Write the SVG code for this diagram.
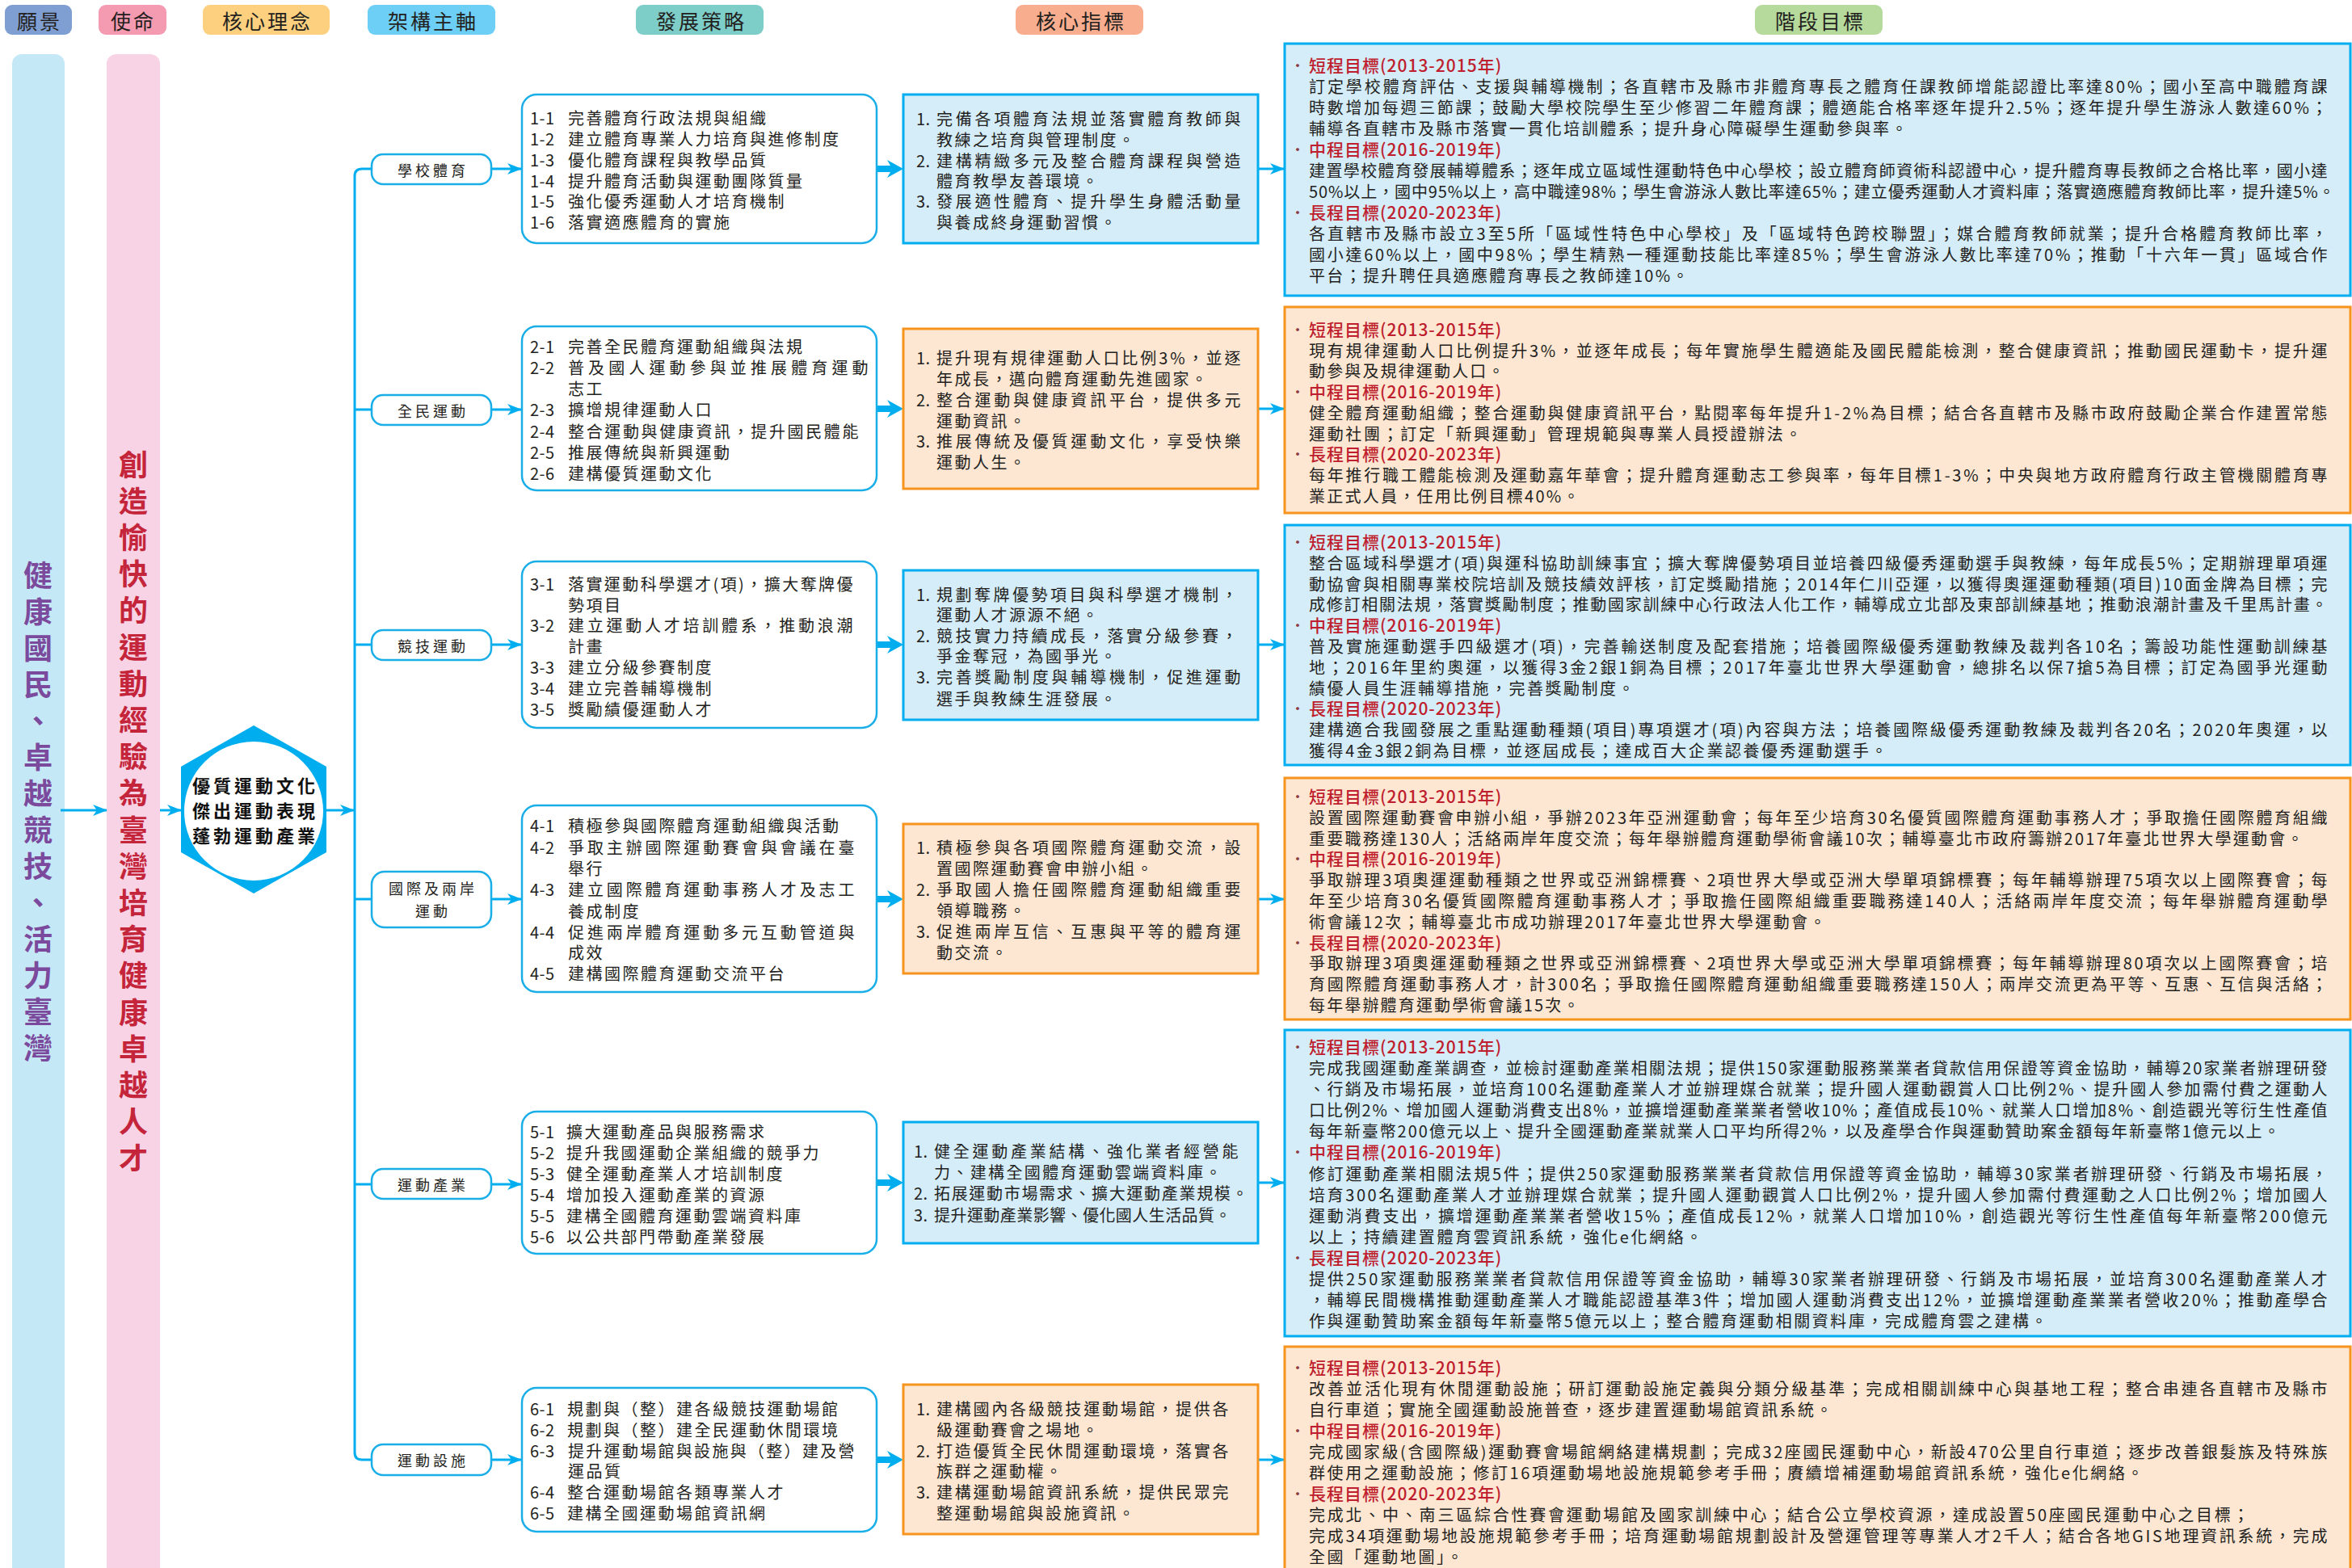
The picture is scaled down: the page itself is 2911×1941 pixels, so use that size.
<svg xmlns="http://www.w3.org/2000/svg" width="2911" height="1941" viewBox="0 0 2911 1941">
<style>
text{font-family:"Noto Sans CJK TC","Noto Sans CJK JP",sans-serif;}
.t{font-size:20px;fill:#231f20;dominant-baseline:central;letter-spacing:2.5px;}
.n{font-size:20px;fill:#231f20;dominant-baseline:central;letter-spacing:0.5px;}
.h{font-size:21px;fill:#be1e2d;dominant-baseline:central;font-weight:500;letter-spacing:1px;}
.b{font-size:18px;fill:#8a3a3f;dominant-baseline:central;text-anchor:middle;}
.hd{font-size:25px;fill:#231f20;dominant-baseline:central;text-anchor:middle;letter-spacing:3px;}
.pl{font-size:18px;fill:#231f20;dominant-baseline:central;text-anchor:middle;letter-spacing:4px;}
.hx{font-size:22px;fill:#111;font-weight:700;dominant-baseline:central;text-anchor:middle;letter-spacing:4px;}
.v1{font-size:36px;fill:#7b4a9c;font-weight:700;writing-mode:vertical-rl;text-orientation:upright;text-anchor:middle;letter-spacing:9px;}
.v2{font-size:36px;fill:#c4253a;font-weight:700;writing-mode:vertical-rl;text-orientation:upright;text-anchor:middle;letter-spacing:9.2px;}
.sb{fill:#fff;stroke:#1aaee8;stroke-width:2.5;}
.pill{fill:#fff;stroke:#1aaee8;stroke-width:2.5;}
.bl{fill:#d5ecf9;stroke:#00aeef;stroke-width:3;}
.or{fill:#fde7d3;stroke:#f7941d;stroke-width:3;}
.cn{stroke:#00aeef;stroke-width:3;fill:none;}
.ar{fill:#00aeef;}
</style>
<defs>
<marker id="ah" markerUnits="userSpaceOnUse" markerWidth="20" markerHeight="16" refX="17" refY="7" orient="auto">
<path d="M0,0 L18,7 L0,14 L5,7 z" fill="#00aeef"/>
</marker>
</defs>

<g id="headers">
<rect x="6" y="6" width="83" height="37" rx="9" fill="#7f9fd2"/><text class="hd" x="49" y="25">願景</text>
<rect x="122" y="6" width="84" height="37" rx="9" fill="#f49ab1"/><text class="hd" x="165" y="25">使命</text>
<rect x="251" y="6" width="157" height="37" rx="9" fill="#fdd07f"/><text class="hd" x="331" y="25">核心理念</text>
<rect x="455" y="6" width="158" height="37" rx="9" fill="#6dcff6"/><text class="hd" x="536" y="25">架構主軸</text>
<rect x="787" y="6" width="158" height="37" rx="9" fill="#7dcdc8"/><text class="hd" x="868" y="25">發展策略</text>
<rect x="1257" y="6" width="158" height="37" rx="9" fill="#f8ad8e"/><text class="hd" x="1338" y="25">核心指標</text>
<rect x="2172" y="6" width="158" height="37" rx="9" fill="#b6da9c"/><text class="hd" x="2253" y="25">階段目標</text>
</g>

<g id="vision">
<rect x="15" y="67" width="65" height="1900" rx="12" fill="#c5e8f7"/>
<text class="v1" x="47" y="1009">健康國民、卓越競技、活力臺灣</text>
</g>

<g id="mission">
<rect x="132" y="67" width="66" height="1900" rx="12" fill="#f8d3e5"/>
<text class="v2" x="165" y="1009">創造愉快的運動經驗為臺灣培育健康卓越人才</text>
</g>

<g id="core">
<polygon points="314,898 404,949 404,1055 314,1106 224,1055 224,949" fill="#00aeef"/>
<circle cx="314" cy="1004" r="86" fill="#fff"/>
<text class="hx"><tspan x="316" y="971">優質運動文化</tspan><tspan x="316" y="1002">傑出運動表現</tspan><tspan x="316" y="1033">蓬勃運動產業</tspan></text>
</g>

<g id="connectors">
<line class="cn" x1="75" y1="1003" x2="132" y2="1003" marker-end="url(#ah)"/>
<line class="cn" x1="198" y1="1003" x2="224" y2="1003" marker-end="url(#ah)"/>
<line class="cn" x1="404" y1="1003" x2="438" y2="1003" marker-end="url(#ah)"/>
<path class="cn" d="M460,209 H448 Q439,209 439,218 V1798 Q439,1807 448,1807 H460"/>
<path class="cn" d="M439,507 H460 M439,798 H460 M439,1113 H460 M439,1466 H460"/>
<line class="cn" x1="608" y1="209" x2="645" y2="209" marker-end="url(#ah)"/>
<line class="cn" x1="608" y1="507" x2="645" y2="507" marker-end="url(#ah)"/>
<line class="cn" x1="608" y1="798" x2="645" y2="798" marker-end="url(#ah)"/>
<line class="cn" x1="608" y1="1113" x2="645" y2="1113" marker-end="url(#ah)"/>
<line class="cn" x1="608" y1="1466" x2="645" y2="1466" marker-end="url(#ah)"/>
<line class="cn" x1="608" y1="1807" x2="645" y2="1807" marker-end="url(#ah)"/>
<path class="ar" d="M1086,205 H1102 L1098,198 L1118,209 L1098,220 L1102,213 H1086 z"/>
<path class="ar" d="M1086,502 H1102 L1098,495 L1118,506 L1098,517 L1102,510 H1086 z"/>
<path class="ar" d="M1086,794 H1102 L1098,787 L1118,798 L1098,809 L1102,802 H1086 z"/>
<path class="ar" d="M1086,1109 H1102 L1098,1102 L1118,1113 L1098,1124 L1102,1117 H1086 z"/>
<path class="ar" d="M1086,1460 H1102 L1098,1453 L1118,1464 L1098,1475 L1102,1468 H1086 z"/>
<path class="ar" d="M1086,1803 H1102 L1098,1796 L1118,1807 L1098,1818 L1102,1811 H1086 z"/>
<line class="cn" x1="1557" y1="209" x2="1589" y2="209" marker-end="url(#ah)"/>
<line class="cn" x1="1557" y1="506" x2="1589" y2="506" marker-end="url(#ah)"/>
<line class="cn" x1="1557" y1="798" x2="1589" y2="798" marker-end="url(#ah)"/>
<line class="cn" x1="1557" y1="1113" x2="1589" y2="1113" marker-end="url(#ah)"/>
<line class="cn" x1="1557" y1="1464" x2="1589" y2="1464" marker-end="url(#ah)"/>
<line class="cn" x1="1557" y1="1807" x2="1589" y2="1807" marker-end="url(#ah)"/>
</g>

<g id="axis1"><rect class="pill" x="460" y="191" width="148" height="37" rx="14"/><text class="pl" x="536" y="210">學校體育</text></g>
<g id="axis2"><rect class="pill" x="460" y="489" width="148" height="37" rx="14"/><text class="pl" x="536" y="508">全民運動</text></g>
<g id="axis3"><rect class="pill" x="460" y="780" width="148" height="37" rx="14"/><text class="pl" x="536" y="799">競技運動</text></g>
<g id="axis4"><rect class="pill" x="460" y="1079" width="148" height="69" rx="16"/><text class="pl"><tspan x="536" y="1099">國際及兩岸</tspan><tspan x="536" y="1127">運動</tspan></text></g>
<g id="axis5"><rect class="pill" x="460" y="1447" width="148" height="37" rx="14"/><text class="pl" x="536" y="1466">運動產業</text></g>
<g id="axis6"><rect class="pill" x="460" y="1788" width="148" height="38" rx="14"/><text class="pl" x="536" y="1807">運動設施</text></g>

<g id="strategy1">
<rect class="sb" x="646" y="117" width="439" height="184" rx="18"/>
<text class="n" x="656" y="145">1-1</text><text class="t" x="703" y="145">完善體育行政法規與組織</text>
<text class="n" x="656" y="171">1-2</text><text class="t" x="703" y="171">建立體育專業人力培育與進修制度</text>
<text class="n" x="656" y="197">1-3</text><text class="t" x="703" y="197">優化體育課程與教學品質</text>
<text class="n" x="656" y="223">1-4</text><text class="t" x="703" y="223">提升體育活動與運動團隊質量</text>
<text class="n" x="656" y="248">1-5</text><text class="t" x="703" y="248">強化優秀運動人才培育機制</text>
<text class="n" x="656" y="274">1-6</text><text class="t" x="703" y="274">落實適應體育的實施</text>
</g>
<g id="strategy2">
<rect class="sb" x="646" y="404" width="439" height="203" rx="18"/>
<text class="n" x="656" y="428">2-1</text><text class="t" x="703" y="428">完善全民體育運動組織與法規</text>
<text class="n" x="656" y="454">2-2</text><text class="t" x="703" y="454" textLength="374">普及國人運動參與並推展體育運動</text>
<text class="t" x="703" y="480">志工</text>
<text class="n" x="656" y="506">2-3</text><text class="t" x="703" y="506">擴增規律運動人口</text>
<text class="n" x="656" y="533">2-4</text><text class="t" x="703" y="533" textLength="362">整合運動與健康資訊，提升國民體能</text>
<text class="n" x="656" y="559">2-5</text><text class="t" x="703" y="559">推展傳統與新興運動</text>
<text class="n" x="656" y="585">2-6</text><text class="t" x="703" y="585">建構優質運動文化</text>
</g>
<g id="strategy3">
<rect class="sb" x="646" y="695" width="439" height="206" rx="18"/>
<text class="n" x="656" y="722">3-1</text><text class="t" x="703" y="722" textLength="355">落實運動科學選才(項)，擴大奪牌優</text>
<text class="t" x="703" y="748">勢項目</text>
<text class="n" x="656" y="773">3-2</text><text class="t" x="703" y="773" textLength="355">建立運動人才培訓體系，推動浪潮</text>
<text class="t" x="703" y="799">計畫</text>
<text class="n" x="656" y="825">3-3</text><text class="t" x="703" y="825">建立分級參賽制度</text>
<text class="n" x="656" y="851">3-4</text><text class="t" x="703" y="851">建立完善輔導機制</text>
<text class="n" x="656" y="877">3-5</text><text class="t" x="703" y="877">獎勵績優運動人才</text>
</g>
<g id="strategy4">
<rect class="sb" x="646" y="997" width="439" height="231" rx="18"/>
<text class="n" x="656" y="1021">4-1</text><text class="t" x="703" y="1021">積極參與國際體育運動組織與活動</text>
<text class="n" x="656" y="1048">4-2</text><text class="t" x="703" y="1048" textLength="357">爭取主辦國際運動賽會與會議在臺</text>
<text class="t" x="703" y="1074">舉行</text>
<text class="n" x="656" y="1100">4-3</text><text class="t" x="703" y="1100" textLength="357">建立國際體育運動事務人才及志工</text>
<text class="t" x="703" y="1127">養成制度</text>
<text class="n" x="656" y="1153">4-4</text><text class="t" x="703" y="1153" textLength="357">促進兩岸體育運動多元互動管道與</text>
<text class="t" x="703" y="1178">成效</text>
<text class="n" x="656" y="1204">4-5</text><text class="t" x="703" y="1204">建構國際體育運動交流平台</text>
</g>
<g id="strategy5">
<rect class="sb" x="646" y="1376" width="439" height="176" rx="18"/>
<text class="n" x="656" y="1400">5-1</text><text class="t" x="701" y="1400">擴大運動產品與服務需求</text>
<text class="n" x="656" y="1426">5-2</text><text class="t" x="701" y="1426">提升我國運動企業組織的競爭力</text>
<text class="n" x="656" y="1452">5-3</text><text class="t" x="701" y="1452">健全運動產業人才培訓制度</text>
<text class="n" x="656" y="1478">5-4</text><text class="t" x="701" y="1478">增加投入運動產業的資源</text>
<text class="n" x="656" y="1504">5-5</text><text class="t" x="701" y="1504">建構全國體育運動雲端資料庫</text>
<text class="n" x="656" y="1530">5-6</text><text class="t" x="701" y="1530">以公共部門帶動產業發展</text>
</g>
<g id="strategy6">
<rect class="sb" x="646" y="1718" width="439" height="178" rx="18"/>
<text class="n" x="656" y="1743">6-1</text><text class="t" x="702" y="1743">規劃與（整）建各級競技運動場館</text>
<text class="n" x="656" y="1769">6-2</text><text class="t" x="702" y="1769">規劃與（整）建全民運動休閒環境</text>
<text class="n" x="656" y="1795">6-3</text><text class="t" x="703" y="1795" textLength="357">提升運動場館與設施與（整）建及營</text>
<text class="t" x="703" y="1820">運品質</text>
<text class="n" x="656" y="1846">6-4</text><text class="t" x="702" y="1846">整合運動場館各類專業人才</text>
<text class="n" x="656" y="1872">6-5</text><text class="t" x="702" y="1872">建構全國運動場館資訊網</text>
</g>

<g id="indicator1">
<rect class="bl" x="1118" y="117" width="439" height="184"/>
<text class="n" x="1134" y="146">1.</text><text class="t" x="1159" y="146" textLength="379">完備各項體育法規並落實體育教師與</text>
<text class="t" x="1159" y="172">教練之培育與管理制度。</text>
<text class="n" x="1134" y="198">2.</text><text class="t" x="1159" y="198" textLength="379">建構精緻多元及整合體育課程與營造</text>
<text class="t" x="1159" y="223">體育教學友善環境。</text>
<text class="n" x="1134" y="248">3.</text><text class="t" x="1159" y="248" textLength="379">發展適性體育、提升學生身體活動量</text>
<text class="t" x="1159" y="274">與養成終身運動習慣。</text>
</g>
<g id="indicator2">
<rect class="or" x="1118" y="407" width="439" height="198"/>
<text class="n" x="1134" y="442">1.</text><text class="t" x="1159" y="442" textLength="379">提升現有規律運動人口比例3%，並逐</text>
<text class="t" x="1159" y="468">年成長，邁向體育運動先進國家。</text>
<text class="n" x="1134" y="494">2.</text><text class="t" x="1159" y="494" textLength="379">整合運動與健康資訊平台，提供多元</text>
<text class="t" x="1159" y="520">運動資訊。</text>
<text class="n" x="1134" y="545">3.</text><text class="t" x="1159" y="545" textLength="379">推展傳統及優質運動文化，享受快樂</text>
<text class="t" x="1159" y="571">運動人生。</text>
</g>
<g id="indicator3">
<rect class="bl" x="1118" y="706" width="439" height="185"/>
<text class="n" x="1134" y="735">1.</text><text class="t" x="1159" y="735" textLength="375">規劃奪牌優勢項目與科學選才機制，</text>
<text class="t" x="1159" y="760">運動人才源源不絕。</text>
<text class="n" x="1134" y="786">2.</text><text class="t" x="1159" y="786" textLength="375">競技實力持續成長，落實分級參賽，</text>
<text class="t" x="1159" y="811">爭金奪冠，為國爭光。</text>
<text class="n" x="1134" y="837">3.</text><text class="t" x="1159" y="837" textLength="379">完善獎勵制度與輔導機制，促進運動</text>
<text class="t" x="1159" y="864">選手與教練生涯發展。</text>
</g>
<g id="indicator4">
<rect class="or" x="1118" y="1020" width="439" height="185"/>
<text class="n" x="1134" y="1048">1.</text><text class="t" x="1159" y="1048" textLength="379">積極參與各項國際體育運動交流，設</text>
<text class="t" x="1159" y="1074">置國際運動賽會申辦小組。</text>
<text class="n" x="1134" y="1100">2.</text><text class="t" x="1159" y="1100" textLength="379">爭取國人擔任國際體育運動組織重要</text>
<text class="t" x="1159" y="1126">領導職務。</text>
<text class="n" x="1134" y="1152">3.</text><text class="t" x="1159" y="1152" textLength="379">促進兩岸互信、互惠與平等的體育運</text>
<text class="t" x="1159" y="1178">動交流。</text>
</g>
<g id="indicator5">
<rect class="bl" x="1118" y="1389" width="439" height="150"/>
<text class="n" x="1131" y="1424">1.</text><text class="t" x="1156" y="1424" textLength="379">健全運動產業結構、強化業者經營能</text>
<text class="t" x="1156" y="1450" textLength="358">力、建構全國體育運動雲端資料庫。</text>
<text class="n" x="1131" y="1476">2.</text><text class="t" x="1156" y="1476" textLength="391">拓展運動市場需求、擴大運動產業規模。</text>
<text class="n" x="1131" y="1503">3.</text><text class="t" x="1156" y="1503" textLength="370">提升運動產業影響、優化國人生活品質。</text>
</g>
<g id="indicator6">
<rect class="or" x="1118" y="1714" width="439" height="185"/>
<text class="n" x="1134" y="1743">1.</text><text class="t" x="1159" y="1743" textLength="364">建構國內各級競技運動場館，提供各</text>
<text class="t" x="1159" y="1769">級運動賽會之場地。</text>
<text class="n" x="1134" y="1795">2.</text><text class="t" x="1159" y="1795" textLength="364">打造優質全民休閒運動環境，落實各</text>
<text class="t" x="1159" y="1820">族群之運動權。</text>
<text class="n" x="1134" y="1846">3.</text><text class="t" x="1159" y="1846" textLength="364">建構運動場館資訊系統，提供民眾完</text>
<text class="t" x="1159" y="1872">整運動場館與設施資訊。</text>
</g>

<g id="goal1">
<rect class="bl" x="1590" y="54" width="1319" height="312"/>
<text class="b" x="1606" y="80">·</text><text class="h" x="1620" y="80">短程目標(2013-2015年)</text>
<text class="t" x="1620" y="106" textLength="1263">訂定學校體育評估、支援與輔導機制；各直轄市及縣市非體育專長之體育任課教師增能認證比率達80%；國小至高中職體育課</text>
<text class="t" x="1620" y="132" textLength="1263">時數增加每週三節課；鼓勵大學校院學生至少修習二年體育課；體適能合格率逐年提升2.5%；逐年提升學生游泳人數達60%；</text>
<text class="t" x="1620" y="158" textLength="743">輔導各直轄市及縣市落實一貫化培訓體系；提升身心障礙學生運動參與率。</text>
<text class="b" x="1606" y="184">·</text><text class="h" x="1620" y="184">中程目標(2016-2019年)</text>
<text class="t" x="1620" y="210" textLength="1263">建置學校體育發展輔導體系；逐年成立區域性運動特色中心學校；設立體育師資術科認證中心，提升體育專長教師之合格比率，國小達</text>
<text class="t" x="1620" y="236" textLength="1272">50%以上，國中95%以上，高中職達98%；學生會游泳人數比率達65%；建立優秀運動人才資料庫；落實適應體育教師比率，提升達5%。</text>
<text class="b" x="1606" y="262">·</text><text class="h" x="1620" y="262">長程目標(2020-2023年)</text>
<text class="t" x="1620" y="288" textLength="1263">各直轄市及縣市設立3至5所「區域性特色中心學校」及「區域特色跨校聯盟」；媒合體育教師就業；提升合格體育教師比率，</text>
<text class="t" x="1620" y="314" textLength="1263">國小達60%以上，國中98%；學生精熟一種運動技能比率達85%；學生會游泳人數比率達70%；推動「十六年一貫」區域合作</text>
<text class="t" x="1620" y="340" textLength="472">平台；提升聘任具適應體育專長之教師達10%。</text>
</g>
<g id="goal2">
<rect class="or" x="1590" y="380" width="1319" height="255"/>
<text class="b" x="1606" y="407">·</text><text class="h" x="1620" y="407">短程目標(2013-2015年)</text>
<text class="t" x="1620" y="433" textLength="1263">現有規律運動人口比例提升3%，並逐年成長；每年實施學生體適能及國民體能檢測，整合健康資訊；推動國民運動卡，提升運</text>
<text class="t" x="1620" y="458" textLength="244">動參與及規律運動人口。</text>
<text class="b" x="1606" y="484">·</text><text class="h" x="1620" y="484">中程目標(2016-2019年)</text>
<text class="t" x="1620" y="510" textLength="1263">健全體育運動組織；整合運動與健康資訊平台，點閱率每年提升1-2%為目標；結合各直轄市及縣市政府鼓勵企業合作建置常態</text>
<text class="t" x="1620" y="536" textLength="612">運動社團；訂定「新興運動」管理規範與專業人員授證辦法。</text>
<text class="b" x="1606" y="561">·</text><text class="h" x="1620" y="561">長程目標(2020-2023年)</text>
<text class="t" x="1620" y="587" textLength="1263">每年推行職工體能檢測及運動嘉年華會；提升體育運動志工參與率，每年目標1-3%；中央與地方政府體育行政主管機關體育專</text>
<text class="t" x="1620" y="613" textLength="337">業正式人員，任用比例目標40%。</text>
</g>
<g id="goal3">
<rect class="bl" x="1590" y="650" width="1319" height="297"/>
<text class="b" x="1606" y="670">·</text><text class="h" x="1620" y="670">短程目標(2013-2015年)</text>
<text class="t" x="1620" y="696" textLength="1263">整合區域科學選才(項)與運科協助訓練事宜；擴大奪牌優勢項目並培養四級優秀運動選手與教練，每年成長5%；定期辦理單項運</text>
<text class="t" x="1620" y="722" textLength="1263">動協會與相關專業校院培訓及競技績效評核，訂定獎勵措施；2014年仁川亞運，以獲得奧運運動種類(項目)10面金牌為目標；完</text>
<text class="t" x="1620" y="747" textLength="1263">成修訂相關法規，落實獎勵制度；推動國家訓練中心行政法人化工作，輔導成立北部及東部訓練基地；推動浪潮計畫及千里馬計畫。</text>
<text class="b" x="1606" y="773">·</text><text class="h" x="1620" y="773">中程目標(2016-2019年)</text>
<text class="t" x="1620" y="799" textLength="1263">普及實施運動選手四級選才(項)，完善輸送制度及配套措施；培養國際級優秀運動教練及裁判各10名；籌設功能性運動訓練基</text>
<text class="t" x="1620" y="825" textLength="1263">地；2016年里約奧運，以獲得3金2銀1銅為目標；2017年臺北世界大學運動會，總排名以保7搶5為目標；訂定為國爭光運動</text>
<text class="t" x="1620" y="851" textLength="405">績優人員生涯輔導措施，完善獎勵制度。</text>
<text class="b" x="1606" y="876">·</text><text class="h" x="1620" y="876">長程目標(2020-2023年)</text>
<text class="t" x="1620" y="902" textLength="1263">建構適合我國發展之重點運動種類(項目)專項選才(項)內容與方法；培養國際級優秀運動教練及裁判各20名；2020年奧運，以</text>
<text class="t" x="1620" y="928" textLength="718">獲得4金3銀2銅為目標，並逐屆成長；達成百大企業認養優秀運動選手。</text>
</g>
<g id="goal4">
<rect class="or" x="1590" y="963" width="1319" height="299"/>
<text class="b" x="1606" y="985">·</text><text class="h" x="1620" y="985">短程目標(2013-2015年)</text>
<text class="t" x="1620" y="1011" textLength="1263">設置國際運動賽會申辦小組，爭辦2023年亞洲運動會；每年至少培育30名優質國際體育運動事務人才；爭取擔任國際體育組織</text>
<text class="t" x="1620" y="1037" textLength="1233">重要職務達130人；活絡兩岸年度交流；每年舉辦體育運動學術會議10次；輔導臺北市政府籌辦2017年臺北世界大學運動會。</text>
<text class="b" x="1606" y="1062">·</text><text class="h" x="1620" y="1062">中程目標(2016-2019年)</text>
<text class="t" x="1620" y="1088" textLength="1263">爭取辦理3項奧運運動種類之世界或亞洲錦標賽、2項世界大學或亞洲大學單項錦標賽；每年輔導辦理75項次以上國際賽會；每</text>
<text class="t" x="1620" y="1114" textLength="1263">年至少培育30名優質國際體育運動事務人才；爭取擔任國際組織重要職務達140人；活絡兩岸年度交流；每年舉辦體育運動學</text>
<text class="t" x="1620" y="1140" textLength="642">術會議12次；輔導臺北市成功辦理2017年臺北世界大學運動會。</text>
<text class="b" x="1606" y="1166">·</text><text class="h" x="1620" y="1166">長程目標(2020-2023年)</text>
<text class="t" x="1620" y="1191" textLength="1263">爭取辦理3項奧運運動種類之世界或亞洲錦標賽、2項世界大學或亞洲大學單項錦標賽；每年輔導辦理80項次以上國際賽會；培</text>
<text class="t" x="1620" y="1217" textLength="1263">育國際體育運動事務人才，計300名；爭取擔任國際體育運動組織重要職務達150人；兩岸交流更為平等、互惠、互信與活絡；</text>
<text class="t" x="1620" y="1243" textLength="337">每年舉辦體育運動學術會議15次。</text>
</g>
<g id="goal5">
<rect class="bl" x="1590" y="1275" width="1319" height="379"/>
<text class="b" x="1606" y="1295">·</text><text class="h" x="1620" y="1295">短程目標(2013-2015年)</text>
<text class="t" x="1620" y="1321" textLength="1263">完成我國運動產業調查，並檢討運動產業相關法規；提供150家運動服務業業者貸款信用保證等資金協助，輔導20家業者辦理研發</text>
<text class="t" x="1620" y="1347" textLength="1263">、行銷及市場拓展，並培育100名運動產業人才並辦理媒合就業；提升國人運動觀賞人口比例2%、提升國人參加需付費之運動人</text>
<text class="t" x="1620" y="1373" textLength="1263">口比例2%、增加國人運動消費支出8%，並擴增運動產業業者營收10%；產值成長10%、就業人口增加8%、創造觀光等衍生性產值</text>
<text class="t" x="1620" y="1399" textLength="1204">每年新臺幣200億元以上、提升全國運動產業就業人口平均所得2%，以及產學合作與運動贊助案金額每年新臺幣1億元以上。</text>
<text class="b" x="1606" y="1425">·</text><text class="h" x="1620" y="1425">中程目標(2016-2019年)</text>
<text class="t" x="1620" y="1452" textLength="1263">修訂運動產業相關法規5件；提供250家運動服務業業者貸款信用保證等資金協助，輔導30家業者辦理研發、行銷及市場拓展，</text>
<text class="t" x="1620" y="1478" textLength="1263">培育300名運動產業人才並辦理媒合就業；提升國人運動觀賞人口比例2%，提升國人參加需付費運動之人口比例2%；增加國人</text>
<text class="t" x="1620" y="1504" textLength="1263">運動消費支出，擴增運動產業業者營收15%；產值成長12%，就業人口增加10%，創造觀光等衍生性產值每年新臺幣200億元</text>
<text class="t" x="1620" y="1530" textLength="489">以上；持續建置體育雲資訊系統，強化e化網絡。</text>
<text class="b" x="1606" y="1556">·</text><text class="h" x="1620" y="1556">長程目標(2020-2023年)</text>
<text class="t" x="1620" y="1582" textLength="1263">提供250家運動服務業業者貸款信用保證等資金協助，輔導30家業者辦理研發、行銷及市場拓展，並培育300名運動產業人才</text>
<text class="t" x="1620" y="1608" textLength="1263">，輔導民間機構推動運動產業人才職能認證基準3件；增加國人運動消費支出12%，並擴增運動產業業者營收20%；推動產學合</text>
<text class="t" x="1620" y="1634" textLength="916">作與運動贊助案金額每年新臺幣5億元以上；整合體育運動相關資料庫，完成體育雲之建構。</text>
</g>
<g id="goal6">
<rect class="or" x="1590" y="1667" width="1319" height="290"/>
<text class="b" x="1606" y="1692">·</text><text class="h" x="1620" y="1692">短程目標(2013-2015年)</text>
<text class="t" x="1620" y="1718" textLength="1263">改善並活化現有休閒運動設施；研訂運動設施定義與分類分級基準；完成相關訓練中心與基地工程；整合串連各直轄市及縣市</text>
<text class="t" x="1620" y="1744" textLength="650">自行車道；實施全國運動設施普查，逐步建置運動場館資訊系統。</text>
<text class="b" x="1606" y="1770">·</text><text class="h" x="1620" y="1770">中程目標(2016-2019年)</text>
<text class="t" x="1620" y="1796" textLength="1263">完成國家級(含國際級)運動賽會場館網絡建構規劃；完成32座國民運動中心，新設470公里自行車道；逐步改善銀髮族及特殊族</text>
<text class="t" x="1620" y="1822" textLength="1035">群使用之運動設施；修訂16項運動場地設施規範參考手冊；賡續增補運動場館資訊系統，強化e化網絡。</text>
<text class="b" x="1606" y="1848">·</text><text class="h" x="1620" y="1848">長程目標(2020-2023年)</text>
<text class="t" x="1620" y="1874" textLength="1166">完成北、中、南三區綜合性賽會運動場館及國家訓練中心；結合公立學校資源，達成設置50座國民運動中心之目標；</text>
<text class="t" x="1620" y="1900" textLength="1263">完成34項運動場地設施規範參考手冊；培育運動場館規劃設計及營運管理等專業人才2千人；結合各地GIS地理資訊系統，完成</text>
<text class="t" x="1620" y="1926" textLength="193">全國「運動地圖」。</text>
</g>
</svg>
